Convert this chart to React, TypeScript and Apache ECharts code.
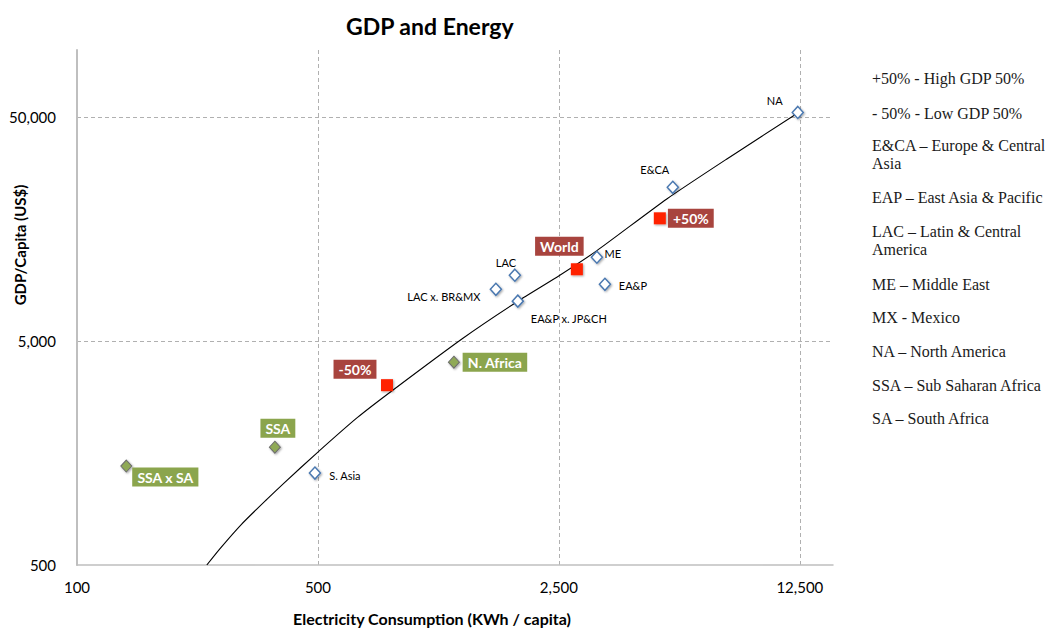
import React, { useEffect, useRef } from "react";
import * as echarts from "echarts";

// ---- Data ----
const xTickValues = [100, 500, 2500, 12500];
const yTickValues = [500, 5000, 50000];
const xMin = 100;
const xMax = 15600;
const yMin = 500;
const yMax = 100000;

const regionNames = ["NA", "E&CA", "ME", "EA&P", "LAC", "LAC x. BR&MX", "EA&P x. JP&CH", "S. Asia"];
const regionKwh = [12330, 5350, 3222, 3400, 1863, 1641, 1900, 490];
const regionGdp = [52600, 24350, 11860, 8980, 9860, 8530, 7550, 1288];

const africaNames = ["N. Africa", "SSA", "SSA x SA"];
const africaKwh = [1240, 375, 139];
const africaGdp = [4030, 1680, 1383];

const worldNames = ["World", "-50%", "+50%"];
const worldKwh = [2819, 793, 4906];
const worldGdp = [10480, 3180, 17700];

// trend line, points
const trendKwh = [238, 260, 300, 356, 400, 498, 650, 824, 1317, 1901, 2516, 3222, 5140, 7680, 12330];
const trendGdp = [500, 592, 760, 985, 1168, 1590, 2277, 3020, 5156, 7545, 9857, 12690, 21600, 32600, 52300];

const legendItems = [
  "+50% - High GDP 50%",
  "- 50% - Low GDP 50%",
  "E&CA \u2013 Europe & Central\nAsia",
  "EAP \u2013 East Asia & Pacific",
  "LAC \u2013 Latin & Central\nAmerica",
  "ME \u2013 Middle East",
  "MX - Mexico",
  "NA \u2013 North America",
  "SSA \u2013 Sub Saharan Africa",
  "SA \u2013 South Africa",
];

// ---- layout / style (not data) ----
const labelOffsets: Record<string, [number, number]> = {
  NA: [-23, -12],
  "E&CA": [-18, -18],
  ME: [16, -4],
  "EA&P": [28, 1],
  LAC: [-9, -13],
  "LAC x. BR&MX": [-52, 7],
  "EA&P x. JP&CH": [51, 17],
  "S. Asia": [30, 2],
  "N. Africa": [41, 0],
  SSA: [3, -19],
  "SSA x SA": [39, 11],
  World: [-17.5, -23],
  "-50%": [-32, -16],
  "+50%": [31, 0],
};
const legendY = [78, 113, 154, 197, 240, 284, 317, 351, 385, 418];

const toX = (v: number) => Math.log(v / xMin) / Math.log(5);
const toY = (v: number) => Math.log10(v / yMin);
const isInt = (v: number) => Math.abs(v - Math.round(v)) < 1e-6;
const FONT = "Lato, 'Open Sans', sans-serif";

export default function App() {
  const ref = useRef<HTMLDivElement>(null);
  useEffect(() => {
    if (!ref.current) return;
    const chart = echarts.init(ref.current, undefined, { renderer: "svg" });

    const shadow = {
      shadowBlur: 2,
      shadowColor: "rgba(0,0,0,0.35)",
      shadowOffsetX: 1,
      shadowOffsetY: 1,
    };

    const mk = (names: string[], xs: number[], ys: number[], label: any) =>
      names.map((n, i) => ({
        name: n,
        value: [toX(xs[i]), toY(ys[i])],
        label: { ...label, offset: labelOffsets[n] },
      }));

    const smallLabel = {
      show: true,
      position: "inside",
      formatter: "{b}",
      color: "#000",
      fontFamily: FONT,
      fontSize: 11,
      align: "center",
      verticalAlign: "middle",
    };
    const boxLabel = (bg: string) => ({
      show: true,
      position: "inside",
      formatter: "{b}",
      color: "#fff",
      fontFamily: FONT,
      fontWeight: "bold",
      fontSize: 14,
      backgroundColor: bg,
      padding: [3, 5, 2, 5],
      align: "center",
      verticalAlign: "middle",
    });

    chart.setOption({
      animation: false,
      backgroundColor: "#fff",
      title: {
        text: "GDP and Energy",
        left: 341,
        top: 9,
        textStyle: { fontFamily: FONT, fontWeight: "bold", fontSize: 23, color: "#000" },
      },
      grid: { left: 77, right: 212, top: 50, bottom: 63, outerBoundsMode: "none" },
      xAxis: {
        type: "value",
        min: 0,
        max: toX(xMax),
        interval: 1,
        axisLine: { show: true, onZero: false, lineStyle: { color: "#bfbfbf", width: 1.5 } },
        axisTick: { show: false },
        axisLabel: {
          margin: 14,
          fontFamily: FONT,
          fontSize: 15,
          color: "#000",
          showMaxLabel: false,
          formatter: (v: number) =>
            isInt(v) ? xTickValues[Math.round(v)]?.toLocaleString("en-US") ?? "" : "",
        },
        splitLine: {
          show: true,
          showMinLine: false,
          showMaxLine: false,
          lineStyle: { color: "#b0b0b0", type: [4, 3], width: 1 },
        },
      },
      yAxis: {
        type: "value",
        min: 0,
        max: toY(yMax),
        interval: 1,
        axisLine: { show: true, onZero: false, lineStyle: { color: "#bfbfbf", width: 2 } },
        axisTick: { show: false },
        axisLabel: {
          margin: 21,
          fontFamily: FONT,
          fontSize: 15,
          color: "#000",
          showMaxLabel: false,
          formatter: (v: number) =>
            isInt(v) ? yTickValues[Math.round(v)]?.toLocaleString("en-US") ?? "" : "",
        },
        splitLine: {
          show: true,
          showMinLine: false,
          showMaxLine: false,
          lineStyle: { color: "#b0b0b0", type: [4, 3], width: 1 },
        },
      },
      graphic: [
        {
          type: "text",
          x: 20,
          y: 245,
          rotation: Math.PI / 2,
          style: {
            text: "GDP/Capita (US$)",
            fontFamily: FONT,
            fontWeight: "bold",
            fontSize: 15,
            fill: "#000",
            align: "center",
            verticalAlign: "middle",
          },
        },
        {
          type: "text",
          x: 432,
          y: 618,
          style: {
            text: "Electricity Consumption (KWh / capita)",
            fontFamily: FONT,
            fontWeight: "bold",
            fontSize: 16,
            fill: "#000",
            align: "center",
            verticalAlign: "middle",
          },
        },
        ...legendItems.map((t, i) => ({
          type: "text",
          x: 872,
          y: legendY[i],
          style: {
            text: t,
            fontFamily: "'Liberation Serif', 'DejaVu Serif', serif",
            fontSize: 16,
            lineHeight: 18,
            fill: "#1a1a1a",
            align: "left",
            verticalAlign: "middle",
          },
        })),
      ],
      series: [
        {
          type: "line",
          data: trendKwh.map((x, i) => [toX(x), toY(trendGdp[i])]),
          symbol: "none",
          smooth: 0.2,
          lineStyle: { color: "#000", width: 1.1 },
          z: 1,
          silent: true,
        },
        {
          type: "scatter",
          symbol: "diamond",
          symbolSize: [11, 12],
          itemStyle: { opacity: 1, color: "#fff", borderColor: "#4a78b0", borderWidth: 1.5, ...shadow },
          data: mk(regionNames, regionKwh, regionGdp, smallLabel),
          z: 3,
        },
        {
          type: "scatter",
          symbol: "diamond",
          symbolSize: [11, 12],
          itemStyle: { opacity: 1, color: "#8fa957", borderColor: "#6e6e6e", borderWidth: 1, ...shadow },
          data: mk(africaNames, africaKwh, africaGdp, boxLabel("#8ba54d")),
          z: 3,
        },
        {
          type: "scatter",
          symbol: "rect",
          symbolSize: 12,
          itemStyle: { opacity: 1, color: "#ff2200", ...shadow },
          data: mk(worldNames, worldKwh, worldGdp, boxLabel("#a8443e")),
          z: 3,
        },
      ],
    });
    return () => chart.dispose();
  }, []);
  return (
    <div
      ref={ref}
      style={{ position: "fixed", left: 0, top: 0, width: 1045, height: 628 }}
    />
  );
}
